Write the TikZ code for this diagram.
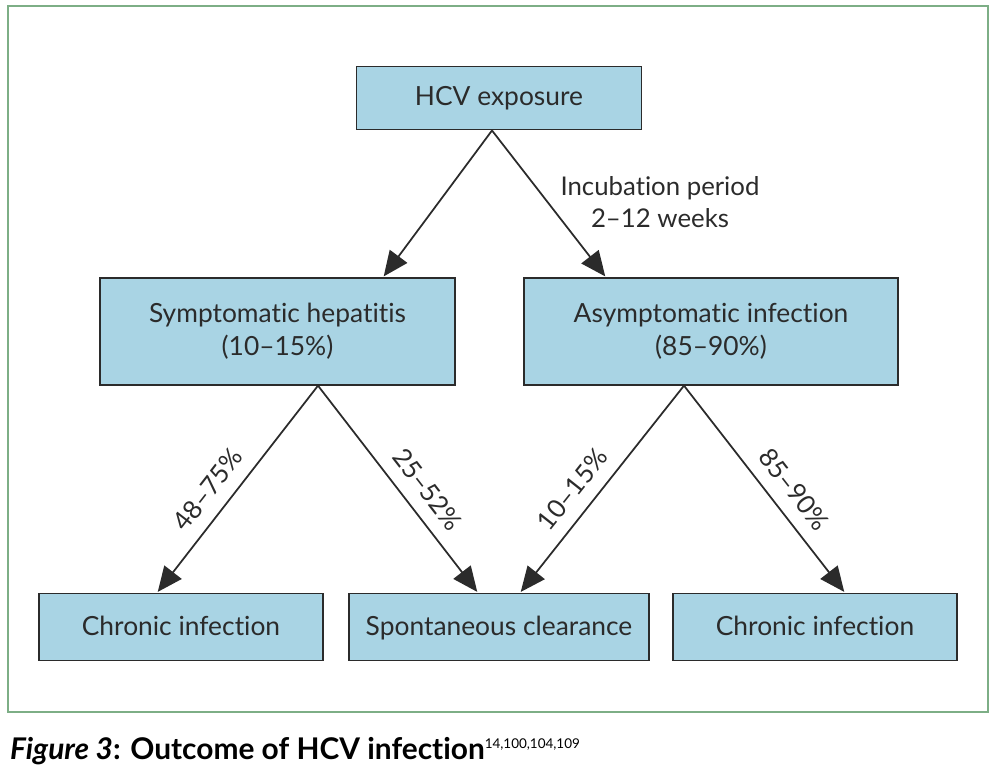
\documentclass[tikz,border=0pt]{standalone}
\usepackage{fontspec}
\setmainfont{Lato}[Ligatures=NoCommon]
\usepackage{tikz}
\usetikzlibrary{arrows.meta,positioning}
\usepackage{xcolor}
\definecolor{boxblue}{HTML}{A9D4E4}
\definecolor{framegreen}{HTML}{7DAE86}
\definecolor{inkgray}{HTML}{2B2B2B}

\begin{document}
\begin{tikzpicture}[x=0.03cm, y=-0.03cm, auto,
    outbox/.style={draw=inkgray, line width=1.4pt, fill=boxblue, minimum height=1.9cm, text=inkgray, align=center, font=\fontsize{22.5}{28}\selectfont},
    flow/.style={draw=inkgray, line width=1.5pt, -{Triangle[length=0.75cm, width=0.65cm]}, shorten >=1pt},
    pct/.style={text=inkgray, font=\fontsize{22}{26}\selectfont, sloped, above, inner sep=11pt}]
    \useasboundingbox (0,0) rectangle (1000,782);
    \draw[framegreen, line width=1.5pt] (8,6) rectangle (988,712);

    \node[outbox, minimum width=8.55cm] (exposure) at (499,98) {HCV exposure};
    \node[outbox, minimum width=10.65cm, minimum height=3.2cm] (symptomatic) at (277.5,331.5) {Symptomatic hepatitis\\(10--15\%)};
    \node[outbox, minimum width=11.22cm, minimum height=3.2cm] (asymptomatic) at (711,331.5) {Asymptomatic infection\\(85--90\%)};
    \node[outbox, minimum width=8.52cm, minimum height=2cm, text depth=0.25ex] (chronicL) at (181,627) {Chronic infection};
    \node[outbox, minimum width=9cm, minimum height=2cm, text depth=0.25ex] (clearance) at (499,627) {Spontaneous clearance};
    \node[outbox, minimum width=8.52cm, minimum height=2cm, text depth=0.25ex] (chronicR) at (815,627) {Chronic infection};

    \draw[flow] (exposure.south -| 492,0) -- (symptomatic.north -| 383,0);
    \draw[flow] (exposure.south -| 492,0) -- (asymptomatic.north -| 606,0);
    \draw[flow] (symptomatic.south -| 318,0) -- node[pct, pos=0.57] {48--75\%} (chronicL.north -| 157,0);
    \draw[flow] (symptomatic.south -| 318,0) -- node[pct, pos=0.57] {25--52\%} (clearance.north -| 478,0);
    \draw[flow] (asymptomatic.south -| 684,0) -- node[pct, pos=0.57] {10--15\%} (clearance.north -| 520,0);
    \draw[flow] (asymptomatic.south -| 684,0) -- node[pct, pos=0.57] {85--90\%} (chronicR.north -| 845,0);

    \node[text=inkgray, align=center, font=\fontsize{22}{27}\selectfont] (incubation) at (660,202) {Incubation period\\2--12 weeks};

    \node[anchor=base west, text=black, font=\fontsize{25.5}{30}\selectfont\bfseries, inner sep=0pt] (caption) at (10,759) {\textit{Figure 3}: Outcome of HCV infection\textsuperscript{\normalfont\fontsize{11.5}{14}\selectfont 14,100,104,109}};
\end{tikzpicture}
\end{document}
